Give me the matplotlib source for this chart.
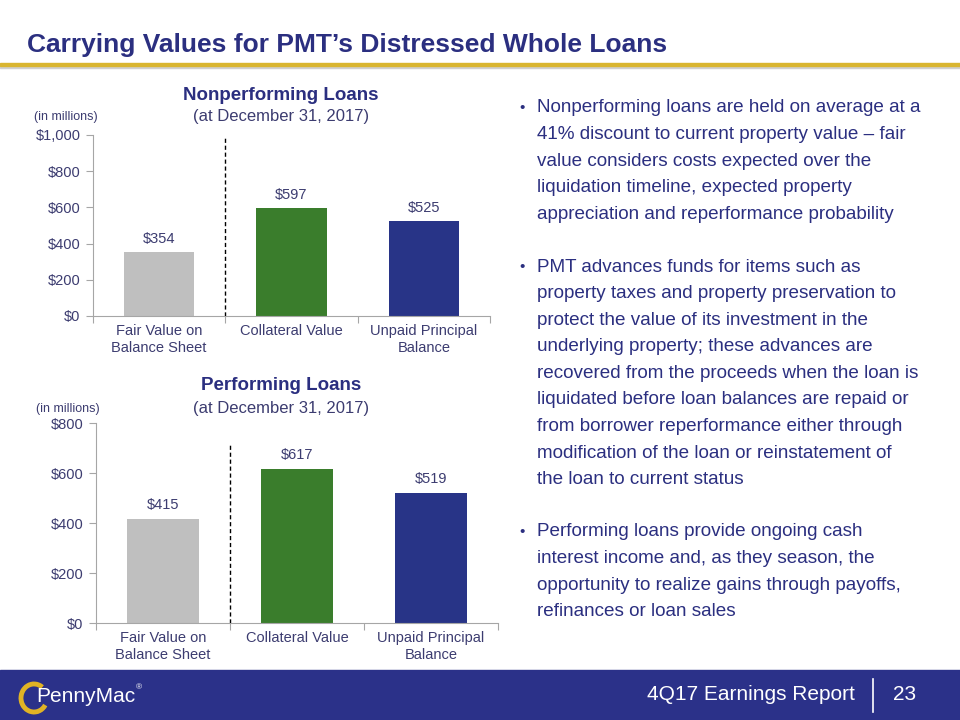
import numpy as np
import matplotlib
matplotlib.use("Agg")
import matplotlib.pyplot as plt
from matplotlib.patches import Rectangle, Arc

plt.rcParams['font.family'] = ['Liberation Sans', 'DejaVu Sans']

# data
categories = ['Fair Value on\nBalance Sheet', 'Collateral Value', 'Unpaid Principal\nBalance']
npl_values = [354, 597, 525]
pl_values = [415, 617, 519]
bar_colors = ['#BFBFBF', '#3A7D2C', '#283487']
npl_ticks = [0, 200, 400, 600, 800, 1000]
pl_ticks = [0, 200, 400, 600, 800]

bullets = [
    ["Nonperforming loans are held on average at a",
     "41% discount to current property value \u2013 fair",
     "value considers costs expected over the",
     "liquidation timeline, expected property",
     "appreciation and reperformance probability"],
    ["PMT advances funds for items such as",
     "property taxes and property preservation to",
     "protect the value of its investment in the",
     "underlying property; these advances are",
     "recovered from the proceeds when the loan is",
     "liquidated before loan balances are repaid or",
     "from borrower reperformance either through",
     "modification of the loan or reinstatement of",
     "the loan to current status"],
    ["Performing loans provide ongoing cash",
     "interest income and, as they season, the",
     "opportunity to realize gains through payoffs,",
     "refinances or loan sales"],
]

navy = '#2B2F80'
tick_col = '#3C3C70'
W, H = 960, 720

fig = plt.figure(figsize=(9.6, 7.2), dpi=100)


def px(x, y):
    return x / W, 1 - y / H


def bar_panel(rect, values, ticks, ymax, dash_top):
    ax = fig.add_axes(rect)
    x = np.arange(len(values))
    ax.bar(x, values, width=0.53, color=bar_colors, zorder=2)
    for xi, v in zip(x, values):
        ax.text(xi, v + ymax * 0.035, '$%d' % v, ha='center', va='bottom',
                fontsize=10.5, color=tick_col)
    ax.set_xlim(-0.5, 2.5)
    ax.set_ylim(0, ymax)
    ax.set_yticks(ticks)
    ax.set_yticklabels(['${:,}'.format(t) for t in ticks], fontsize=10.5, color=tick_col)
    ax.set_xticks([-0.5, 0.5, 1.5, 2.5])
    ax.set_xticklabels([])
    ax.set_xticks(x, minor=True)
    ax.set_xticklabels(categories, minor=True, fontsize=10.5, color=tick_col, linespacing=1.2)
    ax.tick_params(axis='x', which='minor', length=0, pad=6)
    ax.tick_params(axis='x', which='major', length=5, color='#A6A6A6', direction='out')
    ax.tick_params(axis='y', length=5, color='#A6A6A6', pad=4)
    for s in ['top', 'right']:
        ax.spines[s].set_visible(False)
    for s in ['left', 'bottom']:
        ax.spines[s].set_color('#A6A6A6')
    ax.plot([0.5, 0.5], [0, dash_top], ls=(0, (3, 2)), color='black', lw=1, zorder=3)
    return ax


# top chart
bar_panel([93 / W, 1 - 316 / H, 397 / W, 181 / H], npl_values, npl_ticks, 1000, 990)
fig.text(*px(281, 95), 'Nonperforming Loans', ha='center', va='center',
         fontsize=13.5, fontweight='bold', color=navy)
fig.text(*px(281, 117), '(at December 31, 2017)', ha='center', va='center',
         fontsize=12, color='#3C3C70')
fig.text(*px(66, 117), '(in millions)', ha='center', va='center', fontsize=9, color='#3C3C70')

# bottom chart
bar_panel([96 / W, 1 - 623 / H, 402 / W, 200 / H], pl_values, pl_ticks, 800, 720)
fig.text(*px(281, 385), 'Performing Loans', ha='center', va='center',
         fontsize=13.5, fontweight='bold', color=navy)
fig.text(*px(281, 409), '(at December 31, 2017)', ha='center', va='center',
         fontsize=12, color='#3C3C70')
fig.text(*px(68, 409), '(in millions)', ha='center', va='center', fontsize=9, color='#3C3C70')

# header
fig.text(*px(27, 45), "Carrying Values for PMT\u2019s Distressed Whole Loans", ha='left', va='center',
         fontsize=19, fontweight='bold', color=navy)
fig.patches.append(Rectangle(px(0, 68), 1, 2 / H, transform=fig.transFigure, color='#D0D0D0', zorder=1))
fig.patches.append(Rectangle(px(0, 66), 1, 3.5 / H, transform=fig.transFigure, color='#D9B530', zorder=2))

# bullet text
y0 = [108, 267, 532]
for block, ys in zip(bullets, y0):
    fig.text(*px(522, ys), '\u2022', ha='center', va='center', fontsize=11, color=navy)
    for i, line in enumerate(block):
        fig.text(*px(537, ys + i * 26.6), line, ha='left', va='center', fontsize=13.6, color=navy)

# footer
fig.patches.append(Rectangle((0, 0), 1, 50 / H, transform=fig.transFigure, color='#2B3189', zorder=1))
fig.text(*px(855, 695), '4Q17 Earnings Report', ha='right', va='center', fontsize=15, color='white')
fig.add_artist(plt.Line2D([873 / W, 873 / W], [1 - 712 / H, 1 - 679 / H], color='white', lw=1.2))
fig.text(*px(905, 695), '23', ha='center', va='center', fontsize=15, color='white')
logo = Arc(px(34, 698), 26 / W, 28 / H, theta1=60, theta2=320,
           transform=fig.transFigure, color='#E0B325', lw=3.5, zorder=5)
fig.add_artist(logo)
fig.text(*px(36, 697), 'PennyMac', ha='left', va='center', fontsize=15, color='white', zorder=6)
fig.text(*px(136, 688), '\u00ae', ha='left', va='center', fontsize=6, color='white')

fig.savefig('out.png', dpi=100)
